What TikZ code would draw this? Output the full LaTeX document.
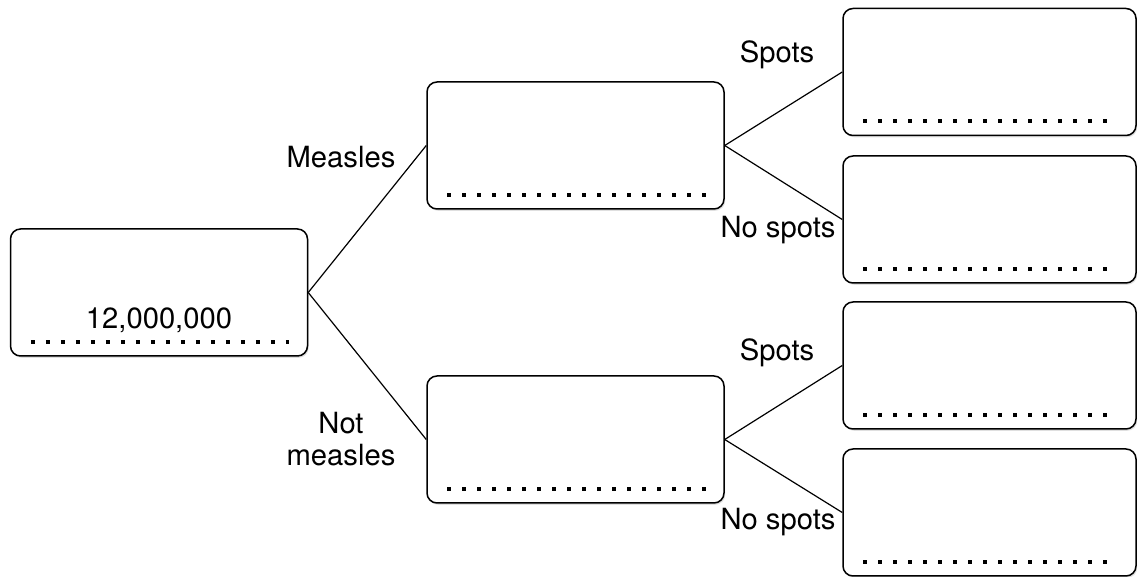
\documentclass[tikz,border=0pt]{standalone}
\usepackage{fontspec}
\setmainfont{TeX Gyre Heros}
\usetikzlibrary{shadows}
\tikzset{
  box/.style={draw, line width=0.75pt, rounded corners=5pt, fill=white,
    minimum width=148.5pt, minimum height=63.5pt,
    drop shadow={shadow xshift=0.6pt, shadow yshift=-0.9pt, opacity=0.25}},
  dotrow/.style={line width=1.9pt, dash pattern=on 1.9pt off 5.6pt},
  branch/.style={line width=0.6pt},
  lbl/.style={font=\fontsize{14.6}{16}\selectfont, align=center}
}
\begin{document}
\begin{tikzpicture}[x=0.5pt,y=-0.5pt]
    \useasboundingbox (0,0) rectangle (1137,577);

    \node[box] (root) at (159,292.5) {};
    \node[box] (measles) at (575.5,145.5) {};
    \node[box] (notmeasles) at (575.5,439.5) {};
    \node[box, minimum width=146.5pt] (ms) at (989.5,72) {};
    \node[box, minimum width=146.5pt] (mns) at (989.5,219.5) {};
    \node[box, minimum width=146.5pt] (nms) at (989.5,365.5) {};
    \node[box, minimum width=146.5pt] (nmns) at (989.5,512.5) {};

    \node[lbl] (rootval) at ([shift={(0,-36)}]root.south) {12,000,000};

    \foreach \b in {root,measles,notmeasles,ms,mns,nms,nmns}
      \draw[dotrow] ([shift={(21,-15)}]\b.south west) -- ([shift={(-19,-15)}]\b.south east);

    \draw[branch] (root.east) -- (measles.west);
    \draw[branch] (root.east) -- (notmeasles.west);
    \draw[branch] (measles.east) -- (ms.west);
    \draw[branch] (measles.east) -- (mns.west);
    \draw[branch] (notmeasles.east) -- (nms.west);
    \draw[branch] (notmeasles.east) -- (nmns.west);

    \node[lbl] (lmeasles) at (341,157) {Measles};
    \node[lbl] (lnotmeasles) at (341,439) {Not\\measles};
    \node[lbl] (lms) at (777,55) {Spots};
    \node[lbl] (lmns) at (778,230) {No spots};
    \node[lbl] (lnms) at (777,353) {Spots};
    \node[lbl] (lnmns) at (778,522) {No spots};
\end{tikzpicture}
\end{document}
